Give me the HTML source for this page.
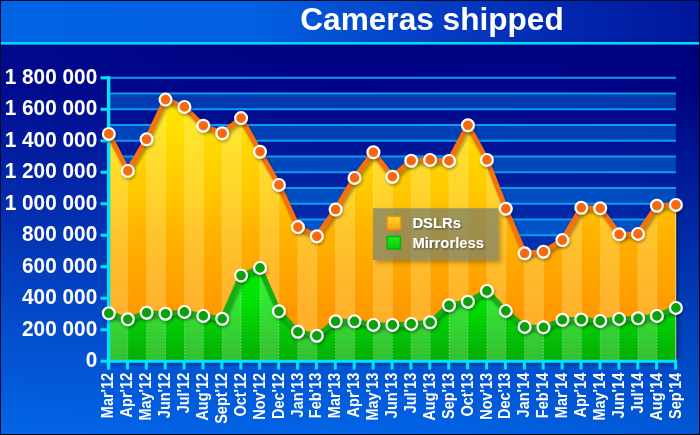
<!DOCTYPE html>
<html lang="en"><head><meta charset="utf-8"><title>Cameras shipped</title>
<style>
html,body{margin:0;padding:0;background:#000;}
body{width:700px;height:435px;overflow:hidden;}
svg{display:block;font-family:"Liberation Sans",Arial,Helvetica,sans-serif;font-weight:bold;}
</style></head><body>
<svg width="700" height="435" viewBox="0 0 700 435">
<defs>
<linearGradient id="gh" x1="0" y1="0" x2="1" y2="0">
<stop offset="0" stop-color="#0263e5"/><stop offset="0.36" stop-color="#0260e2"/><stop offset="0.6" stop-color="#0440c4"/><stop offset="0.8" stop-color="#0228b0"/><stop offset="1" stop-color="#00169a"/></linearGradient>
<linearGradient id="gb" x1="0" y1="0" x2="0" y2="1">
<stop offset="0" stop-color="#000080"/><stop offset="0.12" stop-color="#000385"/><stop offset="0.4" stop-color="#0126a6"/><stop offset="0.7" stop-color="#0148c6"/><stop offset="1" stop-color="#0165e5"/></linearGradient>
<linearGradient id="gx" x1="0" y1="0" x2="1" y2="0"><stop offset="0" stop-color="#1464f0" stop-opacity="0.1"/><stop offset="0.5" stop-color="#1030c0" stop-opacity="0"/><stop offset="1" stop-color="#000064" stop-opacity="0.13"/></linearGradient>
<linearGradient id="gd" gradientUnits="userSpaceOnUse" x1="0" y1="95" x2="0" y2="361">

<stop offset="0" stop-color="#ffe900"/><stop offset="0.16" stop-color="#ffdc00"/><stop offset="0.365" stop-color="#ffc800"/><stop offset="0.53" stop-color="#ffb202"/><stop offset="0.68" stop-color="#ffa404"/><stop offset="0.8" stop-color="#ff9a05"/><stop offset="1" stop-color="#ff9004"/></linearGradient>
<linearGradient id="gm" gradientUnits="userSpaceOnUse" x1="0" y1="265" x2="0" y2="361">

<stop offset="0" stop-color="#02ee02"/><stop offset="0.36" stop-color="#02e204"/><stop offset="0.73" stop-color="#04c206"/><stop offset="1" stop-color="#04ae04"/></linearGradient>
<linearGradient id="so" x1="0" y1="0" x2="0" y2="1"><stop offset="0" stop-color="#ffe030"/><stop offset="1" stop-color="#ffa010"/></linearGradient>
<linearGradient id="sg" x1="0" y1="0" x2="0" y2="1"><stop offset="0" stop-color="#20ec20"/><stop offset="1" stop-color="#08c808"/></linearGradient>
<filter id="sh" x="-10%" y="-10%" width="120%" height="130%"><feGaussianBlur in="SourceAlpha" stdDeviation="1.6"/><feOffset dx="1.2" dy="2"/><feComponentTransfer><feFuncA type="linear" slope="0.32"/></feComponentTransfer><feMerge><feMergeNode/><feMergeNode in="SourceGraphic"/></feMerge></filter>
<filter id="sh2" x="-10%" y="-10%" width="120%" height="130%"><feGaussianBlur in="SourceAlpha" stdDeviation="2"/><feOffset dx="2" dy="2"/><feComponentTransfer><feFuncA type="linear" slope="0.5"/></feComponentTransfer><feMerge><feMergeNode/><feMergeNode in="SourceGraphic"/></feMerge></filter>
<filter id="ts" x="-10%" y="-30%" width="120%" height="160%"><feGaussianBlur in="SourceAlpha" stdDeviation="0.8"/><feOffset dx="0.8" dy="0.8"/><feComponentTransfer><feFuncA type="linear" slope="0.5"/></feComponentTransfer><feMerge><feMergeNode/><feMergeNode in="SourceGraphic"/></feMerge></filter>
<clipPath id="lc"><path clip-rule="evenodd" d="M360,195H520V280H360Z M373,208.2H498.3V260H373Z"/></clipPath>
<clipPath id="cd"><path d="M108.8,361.2 L108.8,133.9 L127.8,170.9 L146.6,139.3 L165.5,99.6 L184.4,106.9 L203.3,125.7 L222.2,133.3 L241.1,118.1 L260.0,151.7 L278.9,184.9 L297.9,227.1 L316.8,236.3 L335.6,209.5 L354.5,177.9 L373.4,152.3 L392.4,176.7 L411.2,160.7 L430.1,159.9 L449.0,160.9 L467.9,125.3 L486.9,159.9 L505.8,208.7 L524.6,253.3 L543.5,251.7 L562.4,240.1 L581.3,207.8 L600.2,208.3 L619.1,234.3 L638.0,233.9 L656.9,205.7 L675.9,204.9 L675.9,361.2 Z"/></clipPath>
<clipPath id="cm"><path d="M108.8,361.2 L108.8,313.3 L127.8,319.3 L146.6,312.7 L165.5,313.7 L184.4,311.9 L203.3,315.9 L222.2,318.8 L241.1,275.5 L260.0,267.9 L278.9,311.3 L297.9,331.7 L316.8,335.7 L335.6,321.3 L354.5,321.3 L373.4,324.9 L392.4,324.9 L411.2,323.9 L430.1,322.3 L449.0,305.3 L467.9,301.7 L486.9,290.9 L505.8,310.9 L524.6,326.9 L543.5,327.3 L562.4,319.8 L581.3,319.5 L600.2,320.9 L619.1,318.9 L638.0,318.3 L656.9,315.9 L675.9,307.9 L675.9,361.2 Z"/></clipPath>

</defs>
<rect x="0" y="0" width="700" height="435" fill="#000"/>
<rect x="0" y="0" width="699" height="434" fill="#000c2c"/>
<rect x="1" y="1" width="698" height="42" fill="url(#gh)"/>
<rect x="1" y="44" width="698" height="390" fill="url(#gb)"/>
<rect x="1" y="44" width="698" height="390" fill="url(#gx)"/>
<rect x="1" y="42" width="698" height="2.6" fill="#00dcff"/>
<rect x="108.85" y="93.54" width="567.0" height="15.74" fill="rgba(0,160,255,0.33)"/>
<rect x="108.85" y="125.03" width="567.0" height="15.74" fill="rgba(0,160,255,0.33)"/>
<rect x="108.85" y="156.52" width="567.0" height="15.74" fill="rgba(0,160,255,0.33)"/>
<rect x="108.85" y="188.01" width="567.0" height="15.74" fill="rgba(0,160,255,0.33)"/>
<rect x="108.85" y="219.50" width="567.0" height="15.74" fill="rgba(0,160,255,0.33)"/>
<rect x="108.85" y="250.99" width="567.0" height="15.74" fill="rgba(0,160,255,0.33)"/>
<rect x="108.85" y="282.48" width="567.0" height="15.74" fill="rgba(0,160,255,0.33)"/>
<rect x="108.85" y="313.97" width="567.0" height="15.74" fill="rgba(0,160,255,0.33)"/>
<rect x="108.85" y="345.46" width="567.0" height="15.74" fill="rgba(0,160,255,0.33)"/>
<line x1="108.85" y1="77.80" x2="675.9" y2="77.80" stroke="#0a9cf2" stroke-width="2"/>
<line x1="108.85" y1="93.54" x2="675.9" y2="93.54" stroke="#0a9cf2" stroke-width="2"/>
<line x1="108.85" y1="109.29" x2="675.9" y2="109.29" stroke="#0a9cf2" stroke-width="2"/>
<line x1="108.85" y1="125.03" x2="675.9" y2="125.03" stroke="#0a9cf2" stroke-width="2"/>
<line x1="108.85" y1="140.78" x2="675.9" y2="140.78" stroke="#0a9cf2" stroke-width="2"/>
<line x1="108.85" y1="156.52" x2="675.9" y2="156.52" stroke="#0a9cf2" stroke-width="2"/>
<line x1="108.85" y1="172.27" x2="675.9" y2="172.27" stroke="#0a9cf2" stroke-width="2"/>
<line x1="108.85" y1="188.01" x2="675.9" y2="188.01" stroke="#0a9cf2" stroke-width="2"/>
<line x1="108.85" y1="203.76" x2="675.9" y2="203.76" stroke="#0a9cf2" stroke-width="2"/>
<line x1="108.85" y1="219.50" x2="675.9" y2="219.50" stroke="#0a9cf2" stroke-width="2"/>
<line x1="108.85" y1="235.24" x2="675.9" y2="235.24" stroke="#0a9cf2" stroke-width="2"/>
<line x1="108.85" y1="250.99" x2="675.9" y2="250.99" stroke="#0a9cf2" stroke-width="2"/>
<line x1="108.85" y1="266.73" x2="675.9" y2="266.73" stroke="#0a9cf2" stroke-width="2"/>
<line x1="108.85" y1="282.48" x2="675.9" y2="282.48" stroke="#0a9cf2" stroke-width="2"/>
<line x1="108.85" y1="298.22" x2="675.9" y2="298.22" stroke="#0a9cf2" stroke-width="2"/>
<line x1="108.85" y1="313.97" x2="675.9" y2="313.97" stroke="#0a9cf2" stroke-width="2"/>
<line x1="108.85" y1="329.71" x2="675.9" y2="329.71" stroke="#0a9cf2" stroke-width="2"/>
<line x1="108.85" y1="345.46" x2="675.9" y2="345.46" stroke="#0a9cf2" stroke-width="2"/>
<line x1="108.85" y1="361.20" x2="675.9" y2="361.20" stroke="#0a9cf2" stroke-width="2"/>
<g filter="url(#sh2)"><path d="M108.8,361.2 L108.8,133.9 L127.8,170.9 L146.6,139.3 L165.5,99.6 L184.4,106.9 L203.3,125.7 L222.2,133.3 L241.1,118.1 L260.0,151.7 L278.9,184.9 L297.9,227.1 L316.8,236.3 L335.6,209.5 L354.5,177.9 L373.4,152.3 L392.4,176.7 L411.2,160.7 L430.1,159.9 L449.0,160.9 L467.9,125.3 L486.9,159.9 L505.8,208.7 L524.6,253.3 L543.5,251.7 L562.4,240.1 L581.3,207.8 L600.2,208.3 L619.1,234.3 L638.0,233.9 L656.9,205.7 L675.9,204.9 L675.9,361.2 Z" fill="url(#gd)"/></g>
<g clip-path="url(#cd)" fill="#fffcb0" fill-opacity="0.25"><rect x="108.8" y="90" width="18.9" height="272"/>
<rect x="146.6" y="90" width="18.9" height="272"/>
<rect x="184.4" y="90" width="18.9" height="272"/>
<rect x="222.2" y="90" width="18.9" height="272"/>
<rect x="260.0" y="90" width="18.9" height="272"/>
<rect x="297.9" y="90" width="18.9" height="272"/>
<rect x="335.6" y="90" width="18.9" height="272"/>
<rect x="373.4" y="90" width="18.9" height="272"/>
<rect x="411.2" y="90" width="18.9" height="272"/>
<rect x="449.0" y="90" width="18.9" height="272"/>
<rect x="486.9" y="90" width="18.9" height="272"/>
<rect x="524.6" y="90" width="18.9" height="272"/>
<rect x="562.4" y="90" width="18.9" height="272"/>
<rect x="600.2" y="90" width="18.9" height="272"/>
<rect x="638.0" y="90" width="18.9" height="272"/>
<g stroke="#fff" stroke-opacity="0.36" stroke-width="0.9" stroke-dasharray="1.6 1.6">
<line x1="127.8" y1="90" x2="127.8" y2="361"/>
<line x1="146.6" y1="90" x2="146.6" y2="361"/>
<line x1="165.5" y1="90" x2="165.5" y2="361"/>
<line x1="184.4" y1="90" x2="184.4" y2="361"/>
<line x1="203.3" y1="90" x2="203.3" y2="361"/>
<line x1="222.2" y1="90" x2="222.2" y2="361"/>
<line x1="241.1" y1="90" x2="241.1" y2="361"/>
<line x1="260.0" y1="90" x2="260.0" y2="361"/>
<line x1="278.9" y1="90" x2="278.9" y2="361"/>
<line x1="297.9" y1="90" x2="297.9" y2="361"/>
<line x1="316.8" y1="90" x2="316.8" y2="361"/>
<line x1="335.6" y1="90" x2="335.6" y2="361"/>
<line x1="354.5" y1="90" x2="354.5" y2="361"/>
<line x1="373.4" y1="90" x2="373.4" y2="361"/>
<line x1="392.4" y1="90" x2="392.4" y2="361"/>
<line x1="411.2" y1="90" x2="411.2" y2="361"/>
<line x1="430.1" y1="90" x2="430.1" y2="361"/>
<line x1="449.0" y1="90" x2="449.0" y2="361"/>
<line x1="467.9" y1="90" x2="467.9" y2="361"/>
<line x1="486.9" y1="90" x2="486.9" y2="361"/>
<line x1="505.8" y1="90" x2="505.8" y2="361"/>
<line x1="524.6" y1="90" x2="524.6" y2="361"/>
<line x1="543.5" y1="90" x2="543.5" y2="361"/>
<line x1="562.4" y1="90" x2="562.4" y2="361"/>
<line x1="581.3" y1="90" x2="581.3" y2="361"/>
<line x1="600.2" y1="90" x2="600.2" y2="361"/>
<line x1="619.1" y1="90" x2="619.1" y2="361"/>
<line x1="638.0" y1="90" x2="638.0" y2="361"/>
<line x1="656.9" y1="90" x2="656.9" y2="361"/>
<line x1="675.9" y1="90" x2="675.9" y2="361"/>
</g></g>
<g clip-path="url(#cd)"><polyline points="108.8,133.9 127.8,170.9 146.6,139.3 165.5,99.6 184.4,106.9 203.3,125.7 222.2,133.3 241.1,118.1 260.0,151.7 278.9,184.9 297.9,227.1 316.8,236.3 335.6,209.5 354.5,177.9 373.4,152.3 392.4,176.7 411.2,160.7 430.1,159.9 449.0,160.9 467.9,125.3 486.9,159.9 505.8,208.7 524.6,253.3 543.5,251.7 562.4,240.1 581.3,207.8 600.2,208.3 619.1,234.3 638.0,233.9 656.9,205.7 675.9,204.9" fill="none" stroke="#000" stroke-opacity="0.32" stroke-width="4.5" stroke-linejoin="round" transform="translate(1.5,3)" style="filter:blur(1.6px)"/></g>
<polyline points="108.8,133.9 127.8,170.9 146.6,139.3 165.5,99.6 184.4,106.9 203.3,125.7 222.2,133.3 241.1,118.1 260.0,151.7 278.9,184.9 297.9,227.1 316.8,236.3 335.6,209.5 354.5,177.9 373.4,152.3 392.4,176.7 411.2,160.7 430.1,159.9 449.0,160.9 467.9,125.3 486.9,159.9 505.8,208.7 524.6,253.3 543.5,251.7 562.4,240.1 581.3,207.8 600.2,208.3 619.1,234.3 638.0,233.9 656.9,205.7 675.9,204.9" fill="none" stroke="#f8700c" stroke-width="5" stroke-linejoin="round" stroke-linecap="round"/>
<path d="M108.8,361.2 L108.8,313.3 L127.8,319.3 L146.6,312.7 L165.5,313.7 L184.4,311.9 L203.3,315.9 L222.2,318.8 L241.1,275.5 L260.0,267.9 L278.9,311.3 L297.9,331.7 L316.8,335.7 L335.6,321.3 L354.5,321.3 L373.4,324.9 L392.4,324.9 L411.2,323.9 L430.1,322.3 L449.0,305.3 L467.9,301.7 L486.9,290.9 L505.8,310.9 L524.6,326.9 L543.5,327.3 L562.4,319.8 L581.3,319.5 L600.2,320.9 L619.1,318.9 L638.0,318.3 L656.9,315.9 L675.9,307.9 L675.9,361.2 Z" fill="url(#gm)"/>
<g clip-path="url(#cm)" fill="#e4ffd8" fill-opacity="0.22"><rect x="108.8" y="260" width="18.9" height="102"/>
<rect x="146.6" y="260" width="18.9" height="102"/>
<rect x="184.4" y="260" width="18.9" height="102"/>
<rect x="222.2" y="260" width="18.9" height="102"/>
<rect x="260.0" y="260" width="18.9" height="102"/>
<rect x="297.9" y="260" width="18.9" height="102"/>
<rect x="335.6" y="260" width="18.9" height="102"/>
<rect x="373.4" y="260" width="18.9" height="102"/>
<rect x="411.2" y="260" width="18.9" height="102"/>
<rect x="449.0" y="260" width="18.9" height="102"/>
<rect x="486.9" y="260" width="18.9" height="102"/>
<rect x="524.6" y="260" width="18.9" height="102"/>
<rect x="562.4" y="260" width="18.9" height="102"/>
<rect x="600.2" y="260" width="18.9" height="102"/>
<rect x="638.0" y="260" width="18.9" height="102"/>
<g stroke="#fff" stroke-opacity="0.36" stroke-width="0.9" stroke-dasharray="1.6 1.6">
<line x1="127.8" y1="260" x2="127.8" y2="361"/>
<line x1="146.6" y1="260" x2="146.6" y2="361"/>
<line x1="165.5" y1="260" x2="165.5" y2="361"/>
<line x1="184.4" y1="260" x2="184.4" y2="361"/>
<line x1="203.3" y1="260" x2="203.3" y2="361"/>
<line x1="222.2" y1="260" x2="222.2" y2="361"/>
<line x1="241.1" y1="260" x2="241.1" y2="361"/>
<line x1="260.0" y1="260" x2="260.0" y2="361"/>
<line x1="278.9" y1="260" x2="278.9" y2="361"/>
<line x1="297.9" y1="260" x2="297.9" y2="361"/>
<line x1="316.8" y1="260" x2="316.8" y2="361"/>
<line x1="335.6" y1="260" x2="335.6" y2="361"/>
<line x1="354.5" y1="260" x2="354.5" y2="361"/>
<line x1="373.4" y1="260" x2="373.4" y2="361"/>
<line x1="392.4" y1="260" x2="392.4" y2="361"/>
<line x1="411.2" y1="260" x2="411.2" y2="361"/>
<line x1="430.1" y1="260" x2="430.1" y2="361"/>
<line x1="449.0" y1="260" x2="449.0" y2="361"/>
<line x1="467.9" y1="260" x2="467.9" y2="361"/>
<line x1="486.9" y1="260" x2="486.9" y2="361"/>
<line x1="505.8" y1="260" x2="505.8" y2="361"/>
<line x1="524.6" y1="260" x2="524.6" y2="361"/>
<line x1="543.5" y1="260" x2="543.5" y2="361"/>
<line x1="562.4" y1="260" x2="562.4" y2="361"/>
<line x1="581.3" y1="260" x2="581.3" y2="361"/>
<line x1="600.2" y1="260" x2="600.2" y2="361"/>
<line x1="619.1" y1="260" x2="619.1" y2="361"/>
<line x1="638.0" y1="260" x2="638.0" y2="361"/>
<line x1="656.9" y1="260" x2="656.9" y2="361"/>
<line x1="675.9" y1="260" x2="675.9" y2="361"/>
</g></g>
<g clip-path="url(#cm)"><polyline points="108.8,313.3 127.8,319.3 146.6,312.7 165.5,313.7 184.4,311.9 203.3,315.9 222.2,318.8 241.1,275.5 260.0,267.9 278.9,311.3 297.9,331.7 316.8,335.7 335.6,321.3 354.5,321.3 373.4,324.9 392.4,324.9 411.2,323.9 430.1,322.3 449.0,305.3 467.9,301.7 486.9,290.9 505.8,310.9 524.6,326.9 543.5,327.3 562.4,319.8 581.3,319.5 600.2,320.9 619.1,318.9 638.0,318.3 656.9,315.9 675.9,307.9" fill="none" stroke="#000" stroke-opacity="0.3" stroke-width="4.5" stroke-linejoin="round" transform="translate(1.5,3)" style="filter:blur(1.6px)"/></g>
<polyline points="108.8,313.3 127.8,319.3 146.6,312.7 165.5,313.7 184.4,311.9 203.3,315.9 222.2,318.8 241.1,275.5 260.0,267.9 278.9,311.3 297.9,331.7 316.8,335.7 335.6,321.3 354.5,321.3 373.4,324.9 392.4,324.9 411.2,323.9 430.1,322.3 449.0,305.3 467.9,301.7 486.9,290.9 505.8,310.9 524.6,326.9 543.5,327.3 562.4,319.8 581.3,319.5 600.2,320.9 619.1,318.9 638.0,318.3 656.9,315.9 675.9,307.9" fill="none" stroke="#14ae14" stroke-width="5" stroke-linejoin="round" stroke-linecap="round"/>
<line x1="675.8" y1="204.9" x2="675.8" y2="361.2" stroke="#fff6c8" stroke-opacity="0.6" stroke-width="1"/>
<g stroke="#00e4ff" stroke-width="3" fill="none">
<line x1="108.64999999999999" y1="76.3" x2="108.64999999999999" y2="369.5" stroke-width="3.4"/>
<line x1="100.5" y1="361.2" x2="677.1" y2="361.2"/>
<line x1="100.5" y1="77.80" x2="108.85" y2="77.80"/>
<line x1="100.5" y1="109.29" x2="108.85" y2="109.29"/>
<line x1="100.5" y1="140.78" x2="108.85" y2="140.78"/>
<line x1="100.5" y1="172.27" x2="108.85" y2="172.27"/>
<line x1="100.5" y1="203.76" x2="108.85" y2="203.76"/>
<line x1="100.5" y1="235.24" x2="108.85" y2="235.24"/>
<line x1="100.5" y1="266.73" x2="108.85" y2="266.73"/>
<line x1="100.5" y1="298.22" x2="108.85" y2="298.22"/>
<line x1="100.5" y1="329.71" x2="108.85" y2="329.71"/>
<line x1="127.5" y1="361.2" x2="127.5" y2="369.5"/>
<line x1="146.3" y1="361.2" x2="146.3" y2="369.5"/>
<line x1="165.2" y1="361.2" x2="165.2" y2="369.5"/>
<line x1="184.1" y1="361.2" x2="184.1" y2="369.5"/>
<line x1="203.0" y1="361.2" x2="203.0" y2="369.5"/>
<line x1="221.9" y1="361.2" x2="221.9" y2="369.5"/>
<line x1="240.8" y1="361.2" x2="240.8" y2="369.5"/>
<line x1="259.7" y1="361.2" x2="259.7" y2="369.5"/>
<line x1="278.6" y1="361.2" x2="278.6" y2="369.5"/>
<line x1="297.6" y1="361.2" x2="297.6" y2="369.5"/>
<line x1="316.4" y1="361.2" x2="316.4" y2="369.5"/>
<line x1="335.3" y1="361.2" x2="335.3" y2="369.5"/>
<line x1="354.2" y1="361.2" x2="354.2" y2="369.5"/>
<line x1="373.1" y1="361.2" x2="373.1" y2="369.5"/>
<line x1="392.1" y1="361.2" x2="392.1" y2="369.5"/>
<line x1="410.9" y1="361.2" x2="410.9" y2="369.5"/>
<line x1="429.8" y1="361.2" x2="429.8" y2="369.5"/>
<line x1="448.7" y1="361.2" x2="448.7" y2="369.5"/>
<line x1="467.6" y1="361.2" x2="467.6" y2="369.5"/>
<line x1="486.6" y1="361.2" x2="486.6" y2="369.5"/>
<line x1="505.4" y1="361.2" x2="505.4" y2="369.5"/>
<line x1="524.4" y1="361.2" x2="524.4" y2="369.5"/>
<line x1="543.2" y1="361.2" x2="543.2" y2="369.5"/>
<line x1="562.1" y1="361.2" x2="562.1" y2="369.5"/>
<line x1="581.0" y1="361.2" x2="581.0" y2="369.5"/>
<line x1="600.0" y1="361.2" x2="600.0" y2="369.5"/>
<line x1="618.9" y1="361.2" x2="618.9" y2="369.5"/>
<line x1="637.8" y1="361.2" x2="637.8" y2="369.5"/>
<line x1="656.6" y1="361.2" x2="656.6" y2="369.5"/>
<line x1="675.6" y1="361.2" x2="675.6" y2="369.5"/>
</g>
<g filter="url(#sh)">
<g fill="#f8680a" stroke="#fff" stroke-width="2.2">
<circle cx="108.8" cy="133.9" r="5.9"/>
<circle cx="127.8" cy="170.9" r="5.9"/>
<circle cx="146.6" cy="139.3" r="5.9"/>
<circle cx="165.5" cy="99.6" r="5.9"/>
<circle cx="184.4" cy="106.9" r="5.9"/>
<circle cx="203.3" cy="125.7" r="5.9"/>
<circle cx="222.2" cy="133.3" r="5.9"/>
<circle cx="241.1" cy="118.1" r="5.9"/>
<circle cx="260.0" cy="151.7" r="5.9"/>
<circle cx="278.9" cy="184.9" r="5.9"/>
<circle cx="297.9" cy="227.1" r="5.9"/>
<circle cx="316.8" cy="236.3" r="5.9"/>
<circle cx="335.6" cy="209.5" r="5.9"/>
<circle cx="354.5" cy="177.9" r="5.9"/>
<circle cx="373.4" cy="152.3" r="5.9"/>
<circle cx="392.4" cy="176.7" r="5.9"/>
<circle cx="411.2" cy="160.7" r="5.9"/>
<circle cx="430.1" cy="159.9" r="5.9"/>
<circle cx="449.0" cy="160.9" r="5.9"/>
<circle cx="467.9" cy="125.3" r="5.9"/>
<circle cx="486.9" cy="159.9" r="5.9"/>
<circle cx="505.8" cy="208.7" r="5.9"/>
<circle cx="524.6" cy="253.3" r="5.9"/>
<circle cx="543.5" cy="251.7" r="5.9"/>
<circle cx="562.4" cy="240.1" r="5.9"/>
<circle cx="581.3" cy="207.8" r="5.9"/>
<circle cx="600.2" cy="208.3" r="5.9"/>
<circle cx="619.1" cy="234.3" r="5.9"/>
<circle cx="638.0" cy="233.9" r="5.9"/>
<circle cx="656.9" cy="205.7" r="5.9"/>
<circle cx="675.9" cy="204.9" r="5.9"/>
</g><g fill="#0ca00c" stroke="#fff" stroke-width="2.2">
<circle cx="108.8" cy="313.3" r="5.9"/>
<circle cx="127.8" cy="319.3" r="5.9"/>
<circle cx="146.6" cy="312.7" r="5.9"/>
<circle cx="165.5" cy="313.7" r="5.9"/>
<circle cx="184.4" cy="311.9" r="5.9"/>
<circle cx="203.3" cy="315.9" r="5.9"/>
<circle cx="222.2" cy="318.8" r="5.9"/>
<circle cx="241.1" cy="275.5" r="5.9"/>
<circle cx="260.0" cy="267.9" r="5.9"/>
<circle cx="278.9" cy="311.3" r="5.9"/>
<circle cx="297.9" cy="331.7" r="5.9"/>
<circle cx="316.8" cy="335.7" r="5.9"/>
<circle cx="335.6" cy="321.3" r="5.9"/>
<circle cx="354.5" cy="321.3" r="5.9"/>
<circle cx="373.4" cy="324.9" r="5.9"/>
<circle cx="392.4" cy="324.9" r="5.9"/>
<circle cx="411.2" cy="323.9" r="5.9"/>
<circle cx="430.1" cy="322.3" r="5.9"/>
<circle cx="449.0" cy="305.3" r="5.9"/>
<circle cx="467.9" cy="301.7" r="5.9"/>
<circle cx="486.9" cy="290.9" r="5.9"/>
<circle cx="505.8" cy="310.9" r="5.9"/>
<circle cx="524.6" cy="326.9" r="5.9"/>
<circle cx="543.5" cy="327.3" r="5.9"/>
<circle cx="562.4" cy="319.8" r="5.9"/>
<circle cx="581.3" cy="319.5" r="5.9"/>
<circle cx="600.2" cy="320.9" r="5.9"/>
<circle cx="619.1" cy="318.9" r="5.9"/>
<circle cx="638.0" cy="318.3" r="5.9"/>
<circle cx="656.9" cy="315.9" r="5.9"/>
<circle cx="675.9" cy="307.9" r="5.9"/>
</g></g>
<rect x="375.5" y="211" width="125.3" height="51.8" fill="#000" fill-opacity="0.28" style="filter:blur(2px)" clip-path="url(#lc)"/>
<rect x="373" y="208.2" width="125.3" height="51.8" fill="#707c6e" fill-opacity="0.68"/>
<rect x="387.2" y="216.6" width="13.2" height="12.6" fill="url(#so)" stroke="#ff8c10" stroke-width="1.5"/>
<rect x="387.2" y="236.4" width="13.2" height="12.6" fill="url(#sg)" stroke="#08b408" stroke-width="1.5"/>
<g fill="#fff" font-size="14.8" filter="url(#ts)"><text x="412.4" y="228.4">DSLRs</text><text x="412.4" y="248.2">Mirrorless</text></g>
<text x="300.3" y="30.4" font-size="31.6" fill="#fff">Cameras shipped</text>
<g fill="#fff" font-size="21.4" text-anchor="end">
<text transform="translate(97.2,367.1) scale(0.972,1)">0</text>
<text transform="translate(97.2,335.6) scale(0.972,1)">200 000</text>
<text transform="translate(97.2,304.1) scale(0.972,1)">400 000</text>
<text transform="translate(97.2,272.6) scale(0.972,1)">600 000</text>
<text transform="translate(97.2,241.1) scale(0.972,1)">800 000</text>
<text transform="translate(97.2,209.7) scale(0.972,1)">1 000 000</text>
<text transform="translate(97.2,178.2) scale(0.972,1)">1 200 000</text>
<text transform="translate(97.2,146.7) scale(0.972,1)">1 400 000</text>
<text transform="translate(97.2,115.2) scale(0.972,1)">1 600 000</text>
<text transform="translate(97.2,83.7) scale(0.972,1)">1 800 000</text>
</g>
<g fill="#fff" font-size="15.7" text-anchor="end">
<text transform="translate(113.4,372.8) rotate(-90) scale(0.925,1)">Mar&#39;12</text>
<text transform="translate(132.3,372.8) rotate(-90) scale(0.925,1)">Apr&#39;12</text>
<text transform="translate(151.2,372.8) rotate(-90) scale(0.925,1)">May&#39;12</text>
<text transform="translate(170.1,372.8) rotate(-90) scale(0.925,1)">Jun&#39;12</text>
<text transform="translate(189.0,372.8) rotate(-90) scale(0.925,1)">Jul&#39;12</text>
<text transform="translate(207.9,372.8) rotate(-90) scale(0.925,1)">Aug&#39;12</text>
<text transform="translate(226.8,372.8) rotate(-90) scale(0.925,1)">Sept&#39;12</text>
<text transform="translate(245.7,372.8) rotate(-90) scale(0.925,1)">Oct&#39;12</text>
<text transform="translate(264.6,372.8) rotate(-90) scale(0.925,1)">Nov&#39;12</text>
<text transform="translate(283.6,372.8) rotate(-90) scale(0.925,1)">Dec&#39;12</text>
<text transform="translate(302.5,372.8) rotate(-90) scale(0.925,1)">Jan&#39;13</text>
<text transform="translate(321.4,372.8) rotate(-90) scale(0.925,1)">Feb&#39;13</text>
<text transform="translate(340.2,372.8) rotate(-90) scale(0.925,1)">Mar&#39;13</text>
<text transform="translate(359.1,372.8) rotate(-90) scale(0.925,1)">Apr&#39;13</text>
<text transform="translate(378.0,372.8) rotate(-90) scale(0.925,1)">May&#39;13</text>
<text transform="translate(397.0,372.8) rotate(-90) scale(0.925,1)">Jun&#39;13</text>
<text transform="translate(415.9,372.8) rotate(-90) scale(0.925,1)">Jul&#39;13</text>
<text transform="translate(434.8,372.8) rotate(-90) scale(0.925,1)">Aug&#39;13</text>
<text transform="translate(453.6,372.8) rotate(-90) scale(0.925,1)">Sep&#39;13</text>
<text transform="translate(472.5,372.8) rotate(-90) scale(0.925,1)">Oct&#39;13</text>
<text transform="translate(491.5,372.8) rotate(-90) scale(0.925,1)">Nov&#39;13</text>
<text transform="translate(510.4,372.8) rotate(-90) scale(0.925,1)">Dec&#39;13</text>
<text transform="translate(529.2,372.8) rotate(-90) scale(0.925,1)">Jan&#39;14</text>
<text transform="translate(548.1,372.8) rotate(-90) scale(0.925,1)">Feb&#39;14</text>
<text transform="translate(567.0,372.8) rotate(-90) scale(0.925,1)">Mar&#39;14</text>
<text transform="translate(585.9,372.8) rotate(-90) scale(0.925,1)">Apr&#39;14</text>
<text transform="translate(604.9,372.8) rotate(-90) scale(0.925,1)">May&#39;14</text>
<text transform="translate(623.8,372.8) rotate(-90) scale(0.925,1)">Jun&#39;14</text>
<text transform="translate(642.6,372.8) rotate(-90) scale(0.925,1)">Jul&#39;14</text>
<text transform="translate(661.5,372.8) rotate(-90) scale(0.925,1)">Aug&#39;14</text>
<text transform="translate(680.5,372.8) rotate(-90) scale(0.925,1)">Sep&#39;14</text>
</g>
</svg></body></html>
